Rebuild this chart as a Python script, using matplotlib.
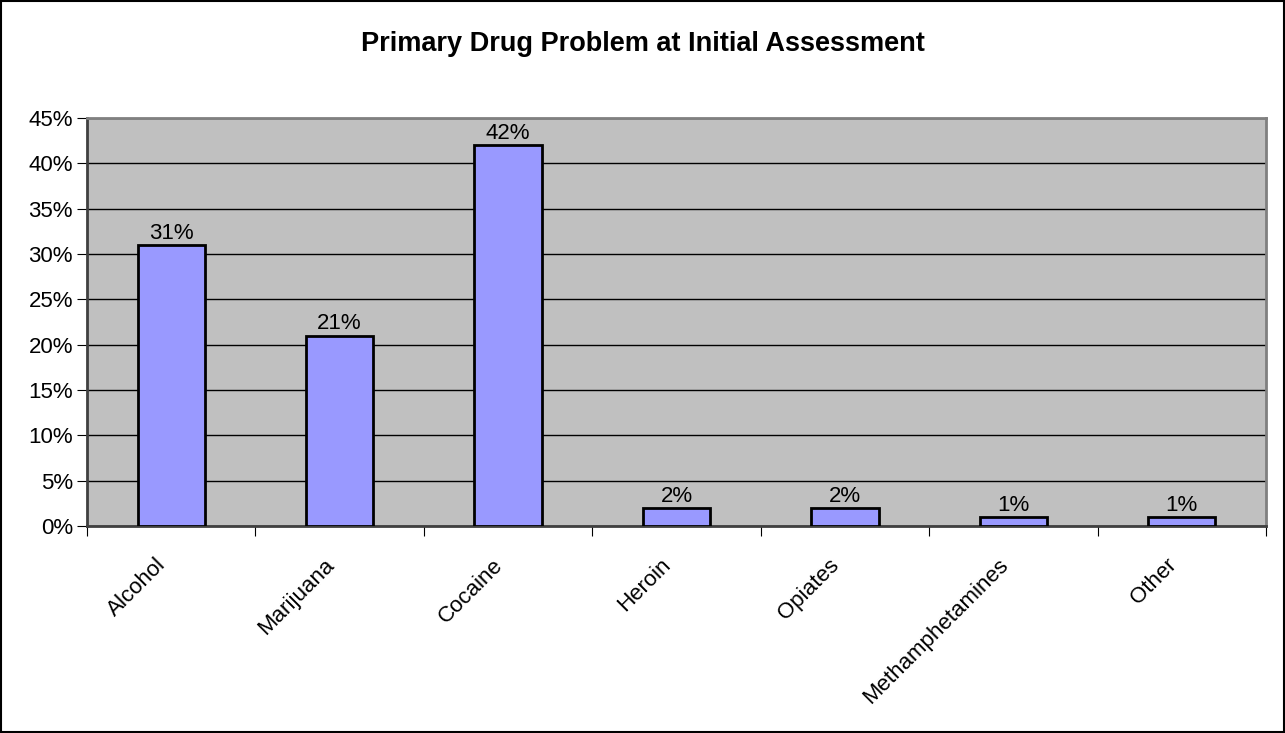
import matplotlib.pyplot as plt
import matplotlib.transforms as mtransforms
from matplotlib.patches import Rectangle

plt.rcParams['font.family'] = ['Liberation Sans', 'DejaVu Sans']

# datos
drugs = ['Alcohol', 'Marijuana', 'Cocaine', 'Heroin', 'Opiates',
         'Methamphetamines', 'Other']
pct = [31, 21, 42, 2, 2, 1, 1]
yticks = [0, 5, 10, 15, 20, 25, 30, 35, 40, 45]

fig = plt.figure(figsize=(12.85, 7.33), dpi=100)
ax = fig.add_axes([0.0677, 0.2824, 0.9175, 0.5566])

# fondo gris del area de grafico
ax.set_facecolor('#C0C0C0')
x = list(range(len(drugs)))
ax.bar(x, pct, width=0.4, color='#9999FF', edgecolor='black', linewidth=2, zorder=3)

# etiquetas de valores
for xi, v in zip(x, pct):
    ax.text(xi, v + 0.15, f'{v}%', ha='center', va='bottom', fontsize=16, zorder=4)

ax.set_xlim(-0.5, len(drugs) - 0.5)
ax.set_ylim(0, 45)
ax.set_yticks(yticks)
ax.set_yticklabels([f'{t}%' for t in yticks], fontsize=16)
ax.yaxis.grid(True, color='black', linewidth=1, zorder=1)
ax.set_axisbelow(True)

# ticks del eje x en los limites de categoria
ax.set_xticks([i - 0.5 for i in range(len(drugs) + 1)], minor=False)
ax.set_xticklabels([])
ax.set_xticks(x, minor=True)
ax.set_xticklabels(drugs, minor=True, rotation=45, ha='right',
                   rotation_mode='anchor', fontsize=16)
ax.tick_params(axis='x', which='minor', length=0, pad=14)
ax.tick_params(axis='x', which='major', length=7, direction='out', color='black')
ax.tick_params(axis='y', length=7, direction='out', color='black', pad=3)

# desplazar etiquetas rotadas un poco a la izquierda y abajo
offset = mtransforms.ScaledTranslation(-16 / 100, -9 / 100, fig.dpi_scale_trans)
for lab in ax.xaxis.get_minorticklabels():
    lab.set_transform(lab.get_transform() + offset)

for s in ax.spines.values():
    s.set_color('#808080')
    s.set_linewidth(2)
ax.spines['left'].set_color('#404040')
ax.spines['bottom'].set_color('#404040')

fig.text(0.5, 0.94, 'Primary Drug Problem at Initial Assessment', ha='center',
         va='center', fontsize=19.5, fontweight='bold')

# borde exterior
fig.patches.append(Rectangle((0.0008, 0.0014), 0.9984, 0.9972, transform=fig.transFigure,
                             fill=False, edgecolor='black', linewidth=1.5))

fig.savefig('out.png', dpi=100)
